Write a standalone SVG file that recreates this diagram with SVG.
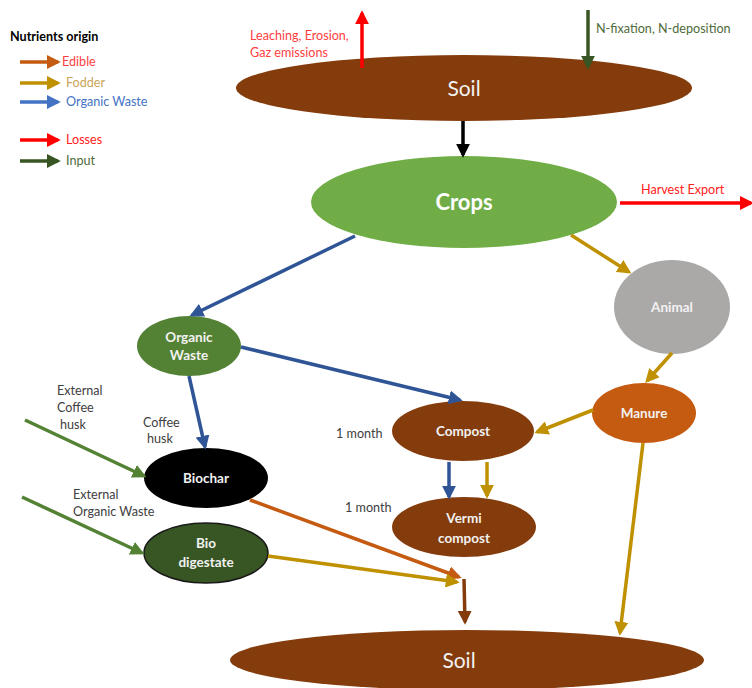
<svg xmlns="http://www.w3.org/2000/svg" width="752" height="688" viewBox="0 0 752 688">
<style>
text{font-family:Lato,"Open Sans","Liberation Sans",sans-serif}
.t{font-size:12.6px}
.lbl{font-size:12.6px;fill:#404040}
.nd{font-size:13.5px;font-weight:bold;fill:#F2F2F2;text-anchor:middle}
.c{fill:none;stroke-width:3.5}
</style>
<defs>
<marker id="mRed" viewBox="0 0 10 10" refX="8" refY="5" markerWidth="4" markerHeight="4" orient="auto" markerUnits="strokeWidth"><path d="M0,0L10,5L0,10z" fill="#FF0000"/></marker>
<marker id="mDg" viewBox="0 0 10 10" refX="8" refY="5" markerWidth="4" markerHeight="4" orient="auto" markerUnits="strokeWidth"><path d="M0,0L10,5L0,10z" fill="#375623"/></marker>
<marker id="mBlk" viewBox="0 0 10 10" refX="8" refY="5" markerWidth="4" markerHeight="4" orient="auto" markerUnits="strokeWidth"><path d="M0,0L10,5L0,10z" fill="#000"/></marker>
<marker id="mBlue" viewBox="0 0 10 10" refX="8" refY="5" markerWidth="4" markerHeight="4" orient="auto" markerUnits="strokeWidth"><path d="M0,0L10,5L0,10z" fill="#2F5597"/></marker>
<marker id="mYel" viewBox="0 0 10 10" refX="8" refY="5" markerWidth="4" markerHeight="4" orient="auto" markerUnits="strokeWidth"><path d="M0,0L10,5L0,10z" fill="#BF9000"/></marker>
<marker id="mOr" viewBox="0 0 10 10" refX="8" refY="5" markerWidth="4" markerHeight="4" orient="auto" markerUnits="strokeWidth"><path d="M0,0L10,5L0,10z" fill="#C55A11"/></marker>
<marker id="mGr" viewBox="0 0 10 10" refX="8" refY="5" markerWidth="4" markerHeight="4" orient="auto" markerUnits="strokeWidth"><path d="M0,0L10,5L0,10z" fill="#548235"/></marker>
<marker id="mBr" viewBox="0 0 10 10" refX="8" refY="5" markerWidth="4" markerHeight="4" orient="auto" markerUnits="strokeWidth"><path d="M0,0L10,5L0,10z" fill="#843C0C"/></marker>
<marker id="mLBlue" viewBox="0 0 10 10" refX="8" refY="5" markerWidth="4" markerHeight="4" orient="auto" markerUnits="strokeWidth"><path d="M0,0L10,5L0,10z" fill="#4472C4"/></marker>
</defs>

<g id="legend">
<text x="10" y="41" style="font-size:12.6px;font-weight:bold;fill:#000">Nutrients origin</text>
<line x1="20" y1="62" x2="58" y2="62" class="c" stroke="#C55A11" marker-end="url(#mOr)"/>
<text x="62" y="66" class="t" fill="#FF4040">Edible</text>
<line x1="20" y1="83" x2="58" y2="83" class="c" stroke="#BF9000" marker-end="url(#mYel)"/>
<text x="66" y="87" class="t" fill="#C9A65A">Fodder</text>
<line x1="20" y1="102" x2="58" y2="102" class="c" stroke="#4472C4" marker-end="url(#mLBlue)"/>
<text x="66" y="106" class="t" fill="#4472C4">Organic Waste</text>
<line x1="20" y1="140" x2="58" y2="140" class="c" stroke="#FF0000" marker-end="url(#mRed)"/>
<text x="66" y="144" class="t" fill="#FF2020">Losses</text>
<line x1="20" y1="161" x2="58" y2="161" class="c" stroke="#375623" marker-end="url(#mDg)"/>
<text x="66" y="165" class="t" fill="#4E6B3A">Input</text>
</g>

<g id="soil-top">
<ellipse cx="464" cy="88" rx="228" ry="33" fill="#843C0C"/>
<text x="464" y="96" style="font-size:21px;fill:#F2F2F2;text-anchor:middle">Soil</text>
</g>
<g id="crops">
<ellipse cx="464" cy="202" rx="153" ry="46" fill="#70AD47"/>
<text x="464" y="210" style="font-size:22px;font-weight:bold;fill:#FFFFFF;text-anchor:middle">Crops</text>
</g>
<g id="organic-waste">
<ellipse cx="189" cy="346" rx="52" ry="30" fill="#548235"/>
<text x="189" y="342" class="nd">Organic</text>
<text x="189" y="360" class="nd">Waste</text>
</g>
<g id="animal">
<ellipse cx="672" cy="307" rx="58" ry="47" fill="#ABA8A8"/>
<text x="672" y="312" class="nd">Animal</text>
</g>
<g id="manure">
<ellipse cx="644" cy="413" rx="52" ry="30" fill="#C55A11"/>
<text x="644" y="418" class="nd">Manure</text>
</g>
<g id="compost">
<ellipse cx="463" cy="431" rx="71" ry="30" fill="#843C0C"/>
<text x="463" y="436" class="nd">Compost</text>
</g>
<g id="vermicompost">
<ellipse cx="464" cy="527" rx="72" ry="30" fill="#843C0C"/>
<text x="464" y="523" class="nd">Vermi</text>
<text x="464" y="543" class="nd">compost</text>
</g>
<g id="biochar">
<ellipse cx="206" cy="478" rx="62" ry="30" fill="#000000"/>
<text x="206" y="483" class="nd">Biochar</text>
</g>
<g id="biodigestate">
<ellipse cx="206" cy="553" rx="62" ry="30" fill="#375623" stroke="#1a1a1a" stroke-width="1.5"/>
<text x="206" y="548" class="nd">Bio</text>
<text x="206" y="567" class="nd">digestate</text>
</g>
<g id="soil-bottom">
<ellipse cx="467" cy="660" rx="237" ry="30" fill="#843C0C"/>
<text x="459" y="668" style="font-size:21px;fill:#F2F2F2;text-anchor:middle">Soil</text>
</g>

<g id="connectors">
<line x1="362" y1="68" x2="362" y2="13" class="c" stroke="#FF0000" marker-end="url(#mRed)"/>
<line x1="588" y1="10" x2="588" y2="67" class="c" stroke="#375623" marker-end="url(#mDg)"/>
<line x1="463" y1="121" x2="463" y2="155" class="c" stroke="#000" marker-end="url(#mBlk)"/>
<line x1="620" y1="203" x2="751" y2="203" class="c" stroke="#FF0000" marker-end="url(#mRed)"/>
<line x1="355" y1="236" x2="192" y2="315" class="c" stroke="#2F5597" marker-end="url(#mBlue)"/>
<line x1="571" y1="235" x2="629" y2="272" class="c" stroke="#BF9000" marker-end="url(#mYel)"/>
<line x1="241" y1="347" x2="460" y2="400" class="c" stroke="#2F5597" marker-end="url(#mBlue)"/>
<line x1="189" y1="376" x2="205" y2="447" class="c" stroke="#2F5597" marker-end="url(#mBlue)"/>
<line x1="672" y1="353" x2="647" y2="381" class="c" stroke="#BF9000" marker-end="url(#mYel)"/>
<line x1="593" y1="410" x2="537" y2="432" class="c" stroke="#BF9000" marker-end="url(#mYel)"/>
<line x1="643" y1="443" x2="620" y2="633" class="c" stroke="#BF9000" marker-end="url(#mYel)"/>
<line x1="449" y1="462" x2="449" y2="497" class="c" stroke="#2F5597" marker-end="url(#mBlue)"/>
<line x1="487" y1="462" x2="487" y2="496" class="c" stroke="#BF9000" marker-end="url(#mYel)"/>
<line x1="250" y1="500" x2="459" y2="577" class="c" stroke="#C55A11" marker-end="url(#mOr)"/>
<line x1="268" y1="556" x2="457" y2="582" class="c" stroke="#BF9000" marker-end="url(#mYel)"/>
<line x1="464" y1="579" x2="465" y2="622" class="c" stroke="#843C0C" marker-end="url(#mBr)"/>
<line x1="25" y1="420" x2="144" y2="476" class="c" stroke="#548235" marker-end="url(#mGr)"/>
<line x1="22" y1="497" x2="142" y2="553" class="c" stroke="#548235" marker-end="url(#mGr)"/>
</g>

<g id="labels">
<text x="250" y="40" class="t" fill="#FF4040">Leaching, Erosion,</text>
<text x="250" y="57" class="t" fill="#FF4040">Gaz emissions</text>
<text x="596" y="33" class="t" fill="#4E6B3A">N-fixation, N-deposition</text>
<text x="641" y="194" class="t" fill="#FF2020">Harvest Export</text>
<text x="336" y="438" class="lbl">1 month</text>
<text x="345" y="512" class="lbl">1 month</text>
<text x="143" y="427" class="lbl">Coffee</text>
<text x="147" y="443" class="lbl">husk</text>
<text x="57" y="395" class="lbl">External</text>
<text x="57" y="412" class="lbl">Coffee</text>
<text x="60" y="429" class="lbl">husk</text>
<text x="73" y="499" class="lbl">External</text>
<text x="73" y="516" class="lbl">Organic Waste</text>
</g>
</svg>
